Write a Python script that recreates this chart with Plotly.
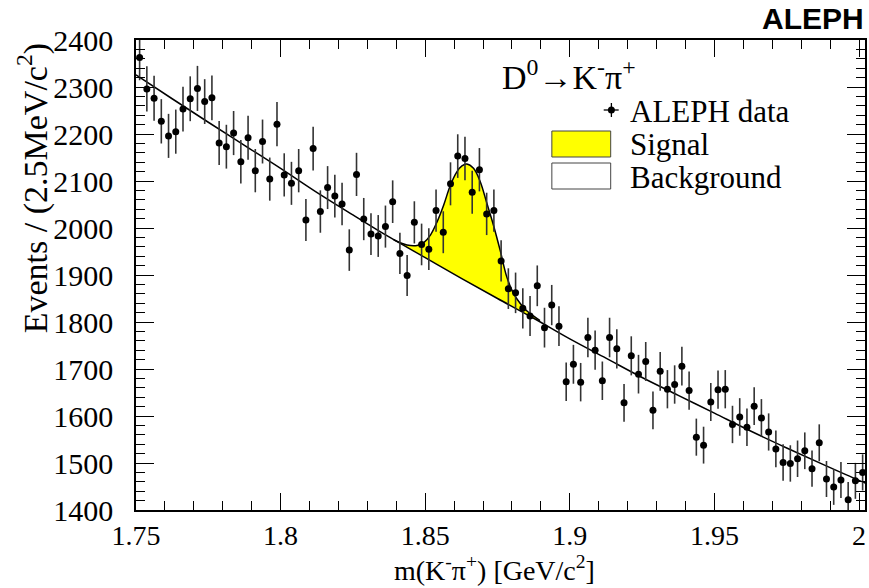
import numpy as np
import plotly.graph_objects as go

# ---------------- data ----------------
bin_lo = 1.75
bin_w = 0.0025
counts = [2363, 2296, 2276, 2227, 2196, 2205, 2253, 2275, 2297, 2269,
          2277, 2181, 2173, 2202, 2141, 2192, 2122, 2184, 2104, 2221,
          2113, 2095, 2122, 2017, 2169, 2035, 2086, 2068, 2051, 1953,
          2114, 2019, 1987, 1983, 2003, 2056, 1946, 1899, 2012, 1965,
          1955, 2037, 1991, 2094, 2153, 2148, 2076, 2124, 2030, 2037,
          1930, 1871, 1862, 1829, 1813, 1877, 1788, 1836, 1791, 1673,
          1710, 1672, 1767, 1740, 1675, 1767, 1743, 1628, 1728, 1689,
          1716, 1612, 1695, 1657, 1667, 1706, 1654, 1555, 1538, 1630,
          1656, 1657, 1582, 1598, 1576, 1621, 1596, 1566, 1530, 1501,
          1499, 1509, 1526, 1488, 1543, 1466, 1449, 1464, 1422, 1462,
          1480]
bin_centers = [bin_lo + bin_w * (i + 0.5) for i in range(len(counts))]
errors = [float(np.sqrt(c)) for c in counts]

# background fit curve
bg_x = [1.75, 1.7625, 1.775, 1.7875, 1.80, 1.8125, 1.825, 1.8375, 1.85,
        1.8625, 1.875, 1.8875, 1.90, 1.9125, 1.925, 1.9375, 1.95, 1.9625,
        1.975, 1.9875, 2.0, 2.0024]
bg_y = [2326, 2275, 2225, 2176, 2127, 2076, 2028, 1981, 1937,
        1893, 1850, 1808, 1764, 1723, 1682, 1644, 1606, 1568,
        1532, 1497, 1463, 1457]

# signal + background curve
sig_x = [1.8391, 1.8437, 1.8472, 1.8495, 1.8518, 1.8541, 1.8564, 1.8587,
         1.8610, 1.8627, 1.8644, 1.8667, 1.8690, 1.8713, 1.8736, 1.8759,
         1.8782, 1.8805, 1.8828, 1.8851, 1.8874, 1.8897]
sig_tot = [1975, 1964, 1963, 1969, 1985, 2013, 2049, 2091,
           2120, 2132, 2136, 2127, 2099, 2053, 2006, 1953,
           1896, 1861, 1840, 1824, 1813, 1803]

x_ticks = [1.75, 1.8, 1.85, 1.9, 1.95, 2.0]
x_tick_text = ["1.75", "1.8", "1.85", "1.9", "1.95", "2"]
y_ticks = [1400, 1500, 1600, 1700, 1800, 1900, 2000, 2100, 2200, 2300, 2400]

# ---------------- figure ----------------
W, H = 869, 588
ML, MR, MT, MB = 136, 2, 40, 78
PW, PH = W - ML - MR, H - MT - MB


def px(xp):
    return (xp - ML) / PW


def py(yp):
    return (H - MB - yp) / PH


SERIF = "Liberation Serif, Times New Roman, serif"

fig = go.Figure()

# yellow signal area: total curve forward, background back
poly_bg = [(x, y) for x, y in zip(bg_x, bg_y) if sig_x[0] < x < sig_x[-1]]
fill_x = sig_x + [p[0] for p in reversed(poly_bg)]
fill_y = sig_tot + [p[1] for p in reversed(poly_bg)]
fig.add_trace(go.Scatter(x=fill_x, y=fill_y, mode="lines", fill="toself",
                         fillcolor="#ffff00", line=dict(width=0),
                         hoverinfo="skip", showlegend=False))

fig.add_trace(go.Scatter(x=bg_x, y=bg_y, mode="lines",
                         line=dict(color="black", width=1.5, shape="spline"),
                         showlegend=False))
fig.add_trace(go.Scatter(x=sig_x, y=sig_tot, mode="lines",
                         line=dict(color="black", width=1.5, shape="spline"),
                         showlegend=False))

fig.add_trace(go.Scatter(x=bin_centers, y=counts, mode="markers",
                         marker=dict(color="black", size=7),
                         error_y=dict(type="data", array=errors, visible=True,
                                      color="#333333", thickness=1.6, width=0),
                         showlegend=False))

axis_common = dict(showline=True, linecolor="black", linewidth=1.5,
                   mirror="allticks", ticks="inside", tickcolor="black",
                   tickwidth=1.3, showgrid=False, zeroline=False)

fig.update_xaxes(range=[1.75, 1.75 + PW / 2900.0], tickvals=x_ticks,
                 ticktext=x_tick_text, ticklen=17,
                 tickfont=dict(family=SERIF, size=28, color="black"),
                 minor=dict(dtick=0.01, ticklen=9, ticks="inside",
                            tickcolor="black", tickwidth=1.0, showgrid=False),
                 ticklabelstandoff=0, **axis_common)
fig.update_yaxes(range=[1400, 2400], tickvals=y_ticks, ticklen=18,
                 tickfont=dict(family=SERIF, size=30, color="black"),
                 minor=dict(dtick=20, ticklen=9, ticks="inside",
                            tickcolor="black", tickwidth=1.0, showgrid=False),
                 ticklabelstandoff=15, **axis_common)

ann = []
# axis titles
ann.append(dict(text="m(K<sup>-</sup>π<sup>+</sup>) [GeV/c<sup>2</sup>]",
                x=px(495), y=py(568), xref="paper", yref="paper",
                showarrow=False, xanchor="center", yanchor="middle",
                font=dict(family=SERIF, size=28, color="black")))
ann.append(dict(text="Events / (2.5MeV/c<sup>2</sup>)",
                x=px(32), y=py(188), xref="paper", yref="paper",
                showarrow=False, xanchor="center", yanchor="middle",
                textangle=-90,
                font=dict(family=SERIF, size=34, color="black")))
# ALEPH label
ann.append(dict(text="<b>ALEPH</b>", x=px(868), y=py(18), xref="paper",
                yref="paper", showarrow=False, xanchor="right",
                yanchor="middle",
                font=dict(family="Liberation Sans, Arial, sans-serif",
                          size=30, color="black")))
# decay label
ann.append(dict(text="D<sup>0</sup>→K<sup>-</sup>π<sup>+</sup>",
                x=px(501), y=py(75), xref="paper", yref="paper",
                showarrow=False, xanchor="left", yanchor="middle",
                font=dict(family=SERIF, size=34, color="black")))
for label, yc in [("ALEPH data", 111), ("Signal", 144), ("Background", 177)]:
    ann.append(dict(text=label, x=px(629), y=py(yc), xref="paper",
                    yref="paper", showarrow=False, xanchor="left",
                    yanchor="middle",
                    font=dict(family=SERIF, size=31, color="black")))

shapes = []
# legend data marker
shapes.append(dict(type="line", xref="paper", yref="paper",
                   x0=px(605), x1=px(620), y0=py(110), y1=py(110),
                   line=dict(color="black", width=1.3)))
shapes.append(dict(type="line", xref="paper", yref="paper",
                   x0=px(612.7), x1=px(612.7), y0=py(103), y1=py(117),
                   line=dict(color="black", width=1.3)))
shapes.append(dict(type="circle", xref="paper", yref="paper",
                   x0=px(609.2), x1=px(616.2), y0=py(106.5), y1=py(113.5),
                   fillcolor="black", line=dict(color="black", width=0)))
# legend boxes
shapes.append(dict(type="rect", xref="paper", yref="paper",
                   x0=px(553), x1=px(612), y0=py(157), y1=py(131),
                   fillcolor="#ffff00", line=dict(color="#444444", width=1)))
shapes.append(dict(type="rect", xref="paper", yref="paper",
                   x0=px(553), x1=px(612), y0=py(189), y1=py(163),
                   fillcolor="white", line=dict(color="#444444", width=1)))

fig.update_layout(width=W, height=H,
                  margin=dict(l=ML, r=MR, t=MT, b=MB, pad=0),
                  plot_bgcolor="white", paper_bgcolor="white",
                  annotations=ann, shapes=shapes, showlegend=False)

fig.write_html("out.html")
